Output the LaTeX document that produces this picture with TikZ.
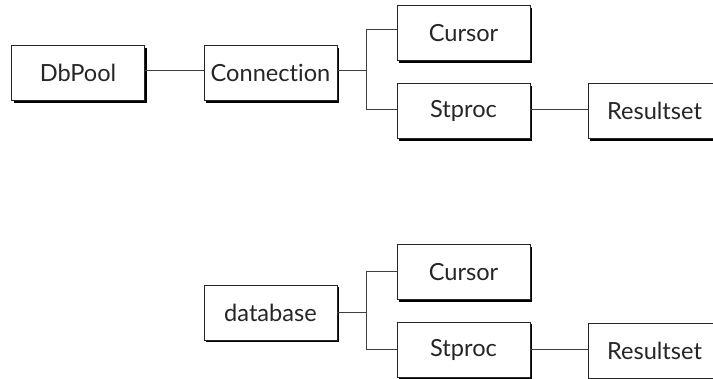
\documentclass[tikz,border=0pt]{standalone}
\usepackage{fontspec}
\setmainfont{Lato}[Ligatures={NoCommon,NoRequired,NoContextual}]
\usetikzlibrary{shadows}
\begin{document}
\begin{tikzpicture}[x=1pt,y=-1pt,
  box/.style={draw=black!85, line width=0.9pt, fill=white,
    minimum width=133pt, minimum height=55pt, inner sep=0pt,
    font=\fontsize{23.6}{26}\selectfont, text=black!85,
    general shadow={fill=black, shadow xshift=2.2pt, shadow yshift=-2.2pt}},
  wire/.style={draw=black!75, line width=0.9pt}]
\useasboundingbox (0,0) rectangle (713,378);
% top tree
\node[box] (dbpool) at (78,73.2) {DbPool};
\node[box] (conn) at (270.5,73.2) {Connection};
\node[box] (cursorA) at (463.5,33) {Cursor};
\node[box] (stprocA) at (463.5,110.8) {Stproc};
\node[box] (resultA) at (654.5,110.8) {Resultset};
\coordinate (jA) at (366.5,70.7);
\draw[wire] ([yshift=2.5pt]dbpool.east) -- ([yshift=2.5pt]conn.west);
\draw[wire] ([yshift=2.5pt]conn.east) -- (jA);
\draw[wire] (jA) |- ([yshift=4pt]cursorA.west);
\draw[wire] (jA) |- ([yshift=1.8pt]stprocA.west);
\draw[wire] ([yshift=1.8pt]stprocA.east) -- ([yshift=1.8pt]resultA.west);
% bottom tree
\node[box] (db) at (270.5,312.5) {database};
\node[box] (cursorB) at (463.5,272) {Cursor};
\node[box] (stprocB) at (463.5,349.5) {Stproc};
\node[box] (resultB) at (654.5,350.5) {Resultset};
\coordinate (jB) at (366,312.3);
\draw[wire] ([yshift=0.2pt]db.east) -- (jB);
\draw[wire] (jB) |- ([yshift=0.3pt]cursorB.west);
\draw[wire] (jB) |- (stprocB.west);
\draw[wire] (stprocB.east) -- (resultB.west |- stprocB.east);
\end{tikzpicture}
\end{document}
